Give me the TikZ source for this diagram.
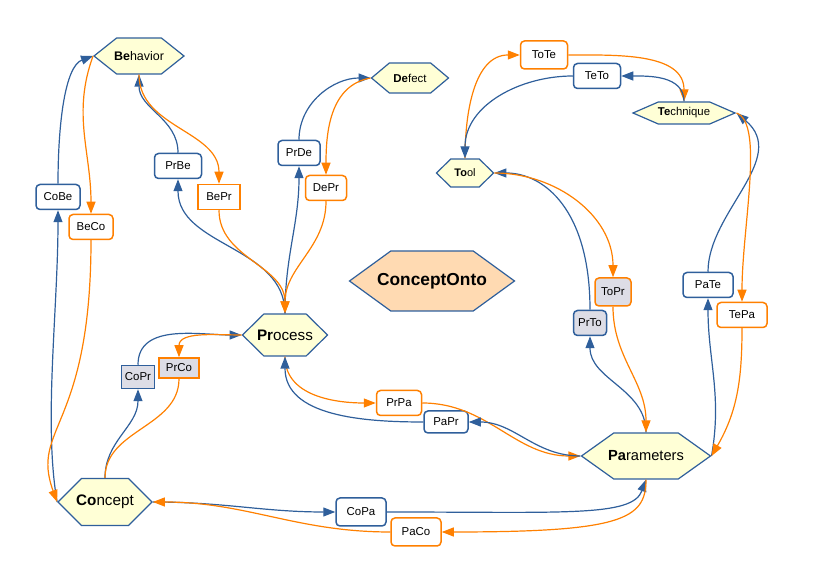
\documentclass[tikz,border=0pt]{standalone}
\usepackage{fontspec}
\setmainfont{Liberation Sans}
\usepackage{tikz}
\usetikzlibrary{shapes,shapes.symbols,arrows.meta}
\definecolor{edgeBlue}{RGB}{47,95,155}
\definecolor{edgeOrange}{RGB}{255,128,0}
\definecolor{hexYellow}{RGB}{255,255,214}
\definecolor{boxGray}{RGB}{221,221,230}
\definecolor{ontoPeach}{RGB}{255,218,178}
\newcommand{\hexlabel}[1]{\makebox[0pt]{#1}}

\begin{document}
\begin{tikzpicture}[x=1bp, y=1bp]%
  \tikzset{blue arrow/.style={draw,-{Triangle[length=12bp,width=9bp]},line width=1.2bp,edgeBlue},
           orange arrow/.style={draw,-{Triangle[length=12bp,width=9bp]},line width=1.2bp,edgeOrange},
           orange line/.style={draw,line width=1.2bp,edgeOrange}}
  \tikzset{hexa/.style={signal, signal to=west and east, draw=edgeBlue, fill=hexYellow, line width=1.2bp, inner sep=0pt, text=black},
           blue box/.style={rectangle, draw=edgeBlue, fill=white, rounded corners=4bp, line width=1.5bp, minimum width=44bp, minimum height=25bp, inner sep=0pt, font=\fontsize{11.5}{13}\selectfont},
           orange box/.style={blue box, draw=edgeOrange}}
  \useasboundingbox (0,0) rectangle (818,578);

  % concepts
  \node[hexa, minimum width=90bp, minimum height=36bp, signal pointer angle=77, font=\fontsize{12.5}{14}\selectfont] at (139,522) (Be) {\hexlabel{\textbf{Be}havior}};
  \node[hexa, minimum width=77bp, minimum height=30bp, signal pointer angle=80, font=\fontsize{11.5}{13}\selectfont] at (410,500) (De) {\hexlabel{\textbf{De}fect}};
  \node[hexa, minimum width=57bp, minimum height=28bp, signal pointer angle=89, font=\fontsize{11}{13}\selectfont] at (465,405) (To) {\hexlabel{\textbf{To}ol}};
  \node[hexa, minimum width=102bp, minimum height=22bp, signal pointer angle=47, font=\fontsize{11.4}{13}\selectfont] at (684,465) (Te) {\hexlabel{\textbf{Te}chnique}};
  \node[hexa, fill=ontoPeach, minimum width=165bp, minimum height=60bp, signal pointer angle=72, font=\fontsize{17.4}{20}\selectfont\bfseries] at (432,297) (CO) {\hexlabel{ConceptOnto}};
  \node[hexa, minimum width=85bp, minimum height=42bp, signal pointer angle=89, font=\fontsize{15.3}{18}\selectfont] at (285,243) (Pr) {\hexlabel{\textbf{Pr}ocess}};
  \node[hexa, minimum width=94bp, minimum height=47bp, signal pointer angle=90, font=\fontsize{15.3}{18}\selectfont] at (105,76) (Co) {\hexlabel{\textbf{Co}ncept}};
  \node[hexa, minimum width=129bp, minimum height=46bp, signal pointer angle=71, font=\fontsize{14.7}{17}\selectfont] at (646,122) (Pa) {\hexlabel{\textbf{Pa}rameters}};

  % relations
  \node[blue box] at (58,381) (CoBe) {CoBe};
  \node[orange box] at (91,351) (BeCo) {BeCo};
  \node[blue box, minimum width=47bp] at (178,412) (PrBe) {PrBe};
  \node[orange box, sharp corners, minimum width=42bp] at (219,381) (BePr) {BePr};
  \node[blue box, minimum width=42bp] at (299,425) (PrDe) {PrDe};
  \node[orange box, minimum width=41bp] at (326,390) (DePr) {DePr};
  \node[orange box, minimum width=47bp, minimum height=28bp] at (544,523) (ToTe) {ToTe};
  \node[blue box, minimum width=47bp] at (597,502) (TeTo) {TeTo};
  \node[orange box, fill=boxGray, minimum width=36bp, minimum height=28bp] at (613,286) (ToPr) {ToPr};
  \node[blue box, fill=boxGray, minimum width=33bp] at (590,255) (PrTo) {PrTo};
  \node[blue box, minimum width=50bp] at (708,293) (PaTe) {PaTe};
  \node[orange box, minimum width=50bp] at (742,263) (TePa) {TePa};
  \node[blue box, sharp corners, fill=boxGray, minimum width=33bp, minimum height=23bp] at (138,201) (CoPr) {CoPr};
  \node[orange box, sharp corners, fill=boxGray, minimum width=40bp, minimum height=20bp] at (179,210) (PrCo) {PrCo};
  \node[orange box, minimum width=45bp] at (399,175) (PrPa) {PrPa};
  \node[blue box, minimum width=44bp, minimum height=22bp] at (446,156) (PaPr) {PaPr};
  \node[blue box, minimum width=50bp, minimum height=28bp] at (361,66) (CoPa) {CoPa};
  \node[orange box, minimum width=50bp, minimum height=28bp] at (416,46) (PaCo) {PaCo};

  \path (Co.west) edge[blue arrow,out=100,in=-90,out distance=80,in distance=100] (CoBe.south)
        (CoBe.north) edge[blue arrow,out=90,in=200,out distance=60,in distance=30] (Be.west);
  \path (Be.west) edge[orange arrow,out=250,in=90] (BeCo.north)
        (BeCo.south) edge[orange arrow,out=-90,in=110,out distance=190,in distance=80] (Co.west);
  \path (Pr.north) edge[blue arrow,out=90,in=-90] (PrBe.south)
        (PrBe.north) edge[blue arrow,out=90,in=-90] (Be.south);
  \path (Be.south) edge[orange arrow,out=-90,in=90] (BePr.north)
        (BePr.south) edge[orange arrow,out=-90,in=90] (Pr.north);
  \path (Pr.north) edge[blue arrow,out=90,in=-90] (PrDe.south)
        (PrDe.north) edge[blue arrow,out=90,in=180] (De.west);
  \path (De.west) edge[orange arrow,out=190,in=90] (DePr.north)
        (DePr.south) edge[orange arrow,out=-90,in=90] (Pr.north);
  \path (To.north) edge[orange arrow,out=90,in=180] (ToTe.west)
        (ToTe.east) edge[orange arrow,out=0,in=90] (Te.north);
  \path (Te.north) edge[blue arrow,out=90,in=0] (TeTo.east)
        (TeTo.west) edge[blue arrow,out=180,in=90] (To.north);
  \path (Pa.north) edge[blue arrow,out=90,in=-90] (PrTo.south)
        (PrTo.north) edge[blue arrow,out=90,in=0,out distance=100,in distance=50] (To.east);
  \path (To.east) edge[orange arrow,out=0,in=90] (ToPr.north)
        (ToPr.south) edge[orange arrow,out=-90,in=90] (Pa.north);
  \path (Pa.east) edge[blue arrow,out=80,in=-90] (PaTe.south)
        (PaTe.north) edge[blue arrow,out=90,in=-40,out distance=60,in distance=70] (Te.east);
  \path (Te.east) edge[orange arrow,out=-20,in=90,out distance=30] (TePa.north)
        (TePa.south) edge[orange arrow,out=-90,in=60] (Pa.east);
  \path (Co.north) edge[blue arrow,out=90,in=-90] (CoPr.south)
        (CoPr.north) edge[blue arrow,out=90,in=180] (Pr.west);
  \path (Pr.west) edge[orange arrow,out=180,in=90] (PrCo.north)
        (PrCo.south) edge[orange line,out=-90,in=90] (Co.north);
  \path (Pr.south) edge[orange arrow,out=-90,in=180] (PrPa.west)
        (PrPa.east) edge[orange arrow,out=0,in=180] (Pa.west);
  \path (Pa.west) edge[blue arrow,out=180,in=0] (PaPr.east)
        (PaPr.west) edge[blue arrow,out=180,in=-90] (Pr.south);
  \path (Co.east) edge[blue arrow,out=0,in=180] (CoPa.west)
        (CoPa.east) edge[blue arrow,out=0,in=-110,out distance=180,in distance=40] (Pa.south);
  \path (Pa.south) edge[orange arrow,out=-90,in=0,out distance=40,in distance=180] (PaCo.east)
        (PaCo.west) edge[orange arrow,out=180,in=0] (Co.east);
\end{tikzpicture}
\end{document}
